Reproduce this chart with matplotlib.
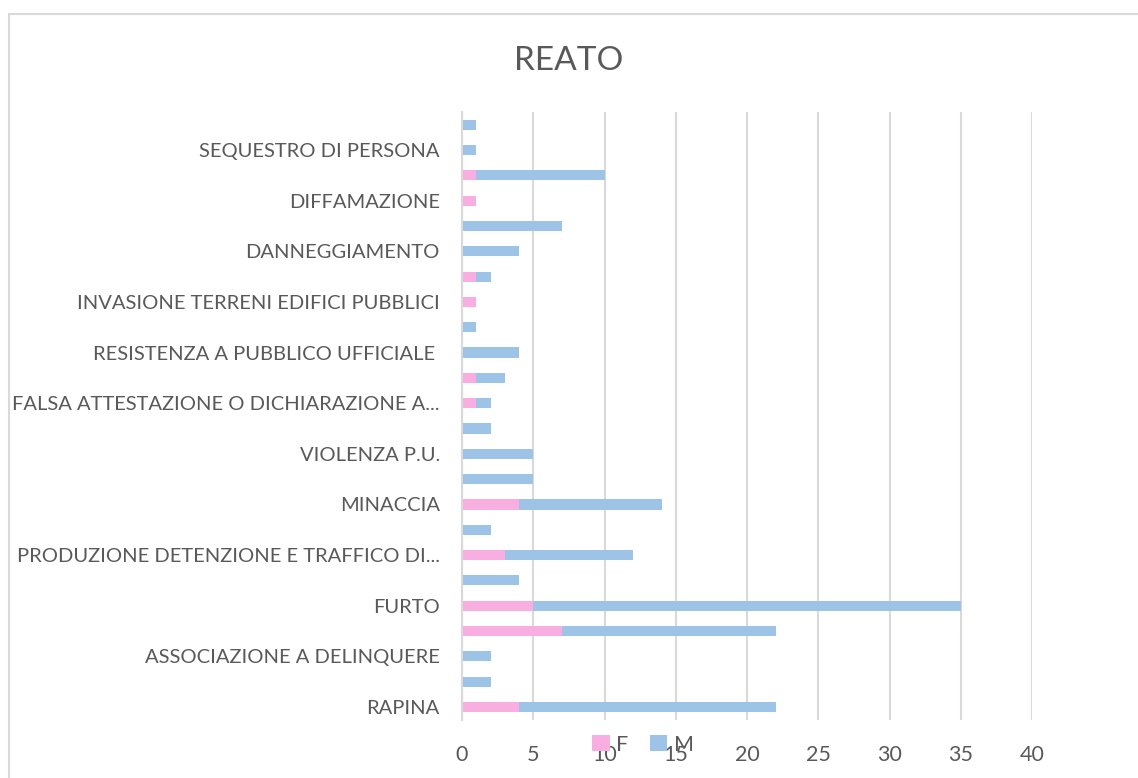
import matplotlib.pyplot as plt
from matplotlib.patches import Rectangle

# categorie dal basso verso l'alto (solo una su due ha l'etichetta visibile)
categorie = ["RAPINA", "", "ASSOCIAZIONE A DELINQUERE", "", "FURTO", "",
             "PRODUZIONE DETENZIONE E TRAFFICO DI...", "", "MINACCIA", "",
             "VIOLENZA P.U.", "", "FALSA ATTESTAZIONE O DICHIARAZIONE A...", "",
             "RESISTENZA A PUBBLICO UFFICIALE ", "", "INVASIONE TERRENI EDIFICI PUBBLICI", "",
             "DANNEGGIAMENTO", "", "DIFFAMAZIONE", "", "SEQUESTRO DI PERSONA", ""]
femmine = [4, 0, 0, 7, 5, 0, 3, 0, 4, 0, 0, 0, 1, 1, 0, 0, 1, 1, 0, 0, 1, 1, 0, 0]
maschi = [18, 2, 2, 15, 30, 4, 9, 2, 10, 5, 5, 2, 1, 2, 4, 1, 0, 1, 4, 7, 0, 9, 1, 1]

col_f = "#F8AEE0"
col_m = "#9DC3E6"
testo = "#595959"

plt.rcParams['font.family'] = ['Lato', 'DejaVu Sans']

fig = plt.figure(figsize=(11.38, 7.78), dpi=100)
ax = fig.add_axes([0.406, 0.075, 0.501, 0.781])

y = list(range(len(categorie)))
ax.barh(y, femmine, height=0.4, color=col_f, label="F")
ax.barh(y, maschi, left=femmine, height=0.4, color=col_m, label="M")

ax.set_xlim(0, 40)
ax.set_ylim(-0.5, len(categorie) - 0.5)
ax.set_xticks(range(0, 41, 5))
ax.set_yticks(y)
ax.set_yticklabels(categorie)
ax.tick_params(axis='both', length=0, colors=testo)
ax.tick_params(axis='y', pad=16, labelsize=14.5)
ax.tick_params(axis='x', pad=18, labelsize=15.5)

ax.grid(axis='x', color='#D9D9D9', linewidth=1.5)
ax.set_axisbelow(True)
for s in ['top', 'right', 'bottom']:
    ax.spines[s].set_visible(False)
ax.spines['left'].set_color('#D9D9D9')
ax.spines['left'].set_linewidth(1.5)

fig.text(0.5, 0.922, "REATO", ha='center', va='center', fontsize=24, color=testo)

fig.legend(loc='center', bbox_to_anchor=(0.565, 0.043), ncol=2, frameon=False,
           fontsize=15.5, labelcolor=testo, handlelength=0.8, handleheight=0.8,
           handletextpad=0.3, columnspacing=1.0)

# bordo del grafico
fig.patches.append(Rectangle((9 / 1138, -0.1), 1.2, 1.1 - 14 / 778,
                             transform=fig.transFigure, fill=False,
                             edgecolor='#D9D9D9', linewidth=1.5))

fig.savefig("out.png", dpi=100)
